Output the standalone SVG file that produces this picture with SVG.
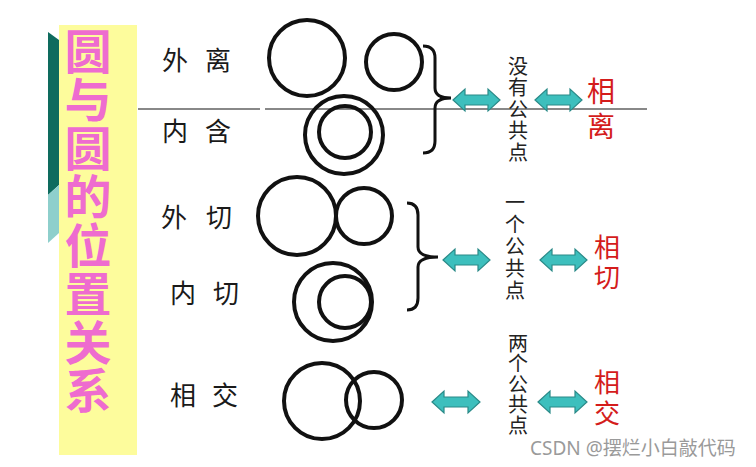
<svg xmlns="http://www.w3.org/2000/svg" width="756" height="467" viewBox="0 0 756 467">
<style>
.circ{fill:none;stroke:#111;stroke-width:4}
.title{font-family:"Noto Sans CJK SC","Noto Sans",sans-serif;font-size:47px;font-weight:bold;fill:#ee6ccf;writing-mode:vertical-rl;letter-spacing:1.5px}
.lbl{font-family:"Noto Sans CJK SC","Noto Sans",sans-serif;font-size:26px;fill:#1a1a1a;text-anchor:middle}
.vt{font-family:"Noto Sans CJK SC","Noto Sans",sans-serif;font-size:20px;fill:#222;writing-mode:vertical-rl}
.red{font-family:"Noto Sans CJK SC","Noto Sans",sans-serif;fill:#d41c1c;writing-mode:vertical-rl}
.arrow{fill:#3dbfbd;stroke:#2a8a88;stroke-width:1.2}
.brace{fill:none;stroke:#111;stroke-width:3}
.rule{stroke:#888;stroke-width:2}
</style>
<rect width="756" height="467" fill="#ffffff"/>
<g id="sidebar">
<polygon points="48,32 59,40 59,185 48,195" fill="#0e6b5e"/>
<polygon points="48,195 59,185 59,233 48,243" fill="#8ecfcc"/>
<rect x="59" y="25" width="78" height="430" fill="#fdfc9c"/>
<text class="title" x="88" y="27.5">圆与圆的位置关系</text>
</g>
<g id="rules">
<line class="rule" x1="138" y1="109" x2="260" y2="109"/>
<line class="rule" x1="265" y1="109" x2="647" y2="109"/>
</g>
<g id="labels">
<text class="lbl" x="175" y="70">外</text><text class="lbl" x="218" y="70">离</text>
<text class="lbl" x="175" y="141">内</text><text class="lbl" x="218" y="141">含</text>
<text class="lbl" x="174" y="227">外</text><text class="lbl" x="219" y="227">切</text>
<text class="lbl" x="183" y="303">内</text><text class="lbl" x="226" y="303">切</text>
<text class="lbl" x="183" y="405">相</text><text class="lbl" x="225" y="405">交</text>
</g>
<g id="separate">
<circle class="circ" cx="307" cy="58" r="38"/>
<circle class="circ" cx="394" cy="62" r="28"/>
</g>
<g id="contain">
<circle class="circ" cx="344" cy="135" r="39"/>
<circle class="circ" cx="345" cy="132" r="26"/>
</g>
<g id="ext-tangent">
<circle class="circ" cx="297" cy="216" r="39"/>
<circle class="circ" cx="364" cy="216" r="28"/>
</g>
<g id="int-tangent">
<circle class="circ" cx="333" cy="302" r="39"/>
<circle class="circ" cx="345" cy="302" r="26"/>
</g>
<g id="intersect">
<circle class="circ" cx="322" cy="401" r="38"/>
<circle class="circ" cx="374" cy="400" r="28"/>
</g>
<g id="connectors">
<path class="brace" d="M423,46 Q435,46 435,58 L435,88 Q435,98 451,98 Q435,98 435,108 L435,141 Q435,153 423,153"/>
<path class="brace" d="M407,203 Q418,203 418,215 L418,247 Q418,257 438,257 Q418,257 418,267 L418,298 Q418,310 407,310"/>
<path class="arrow" d="M453,100 L465,89 L465,95 L488,95 L488,89 L500,100 L488,111 L488,105 L465,105 L465,111 Z"/>
<path class="arrow" d="M535,100 L547,89 L547,95 L570,95 L570,89 L582,100 L570,111 L570,105 L547,105 L547,111 Z"/>
<path class="arrow" d="M443,260 L455,249 L455,255 L478,255 L478,249 L490,260 L478,271 L478,265 L455,265 L455,271 Z"/>
<path class="arrow" d="M540,260 L552,249 L552,255 L575,255 L575,249 L587,260 L575,271 L575,265 L552,265 L552,271 Z"/>
<path class="arrow" d="M432,402 L444,391 L444,397 L468,397 L468,391 L480,402 L468,413 L468,407 L444,407 L444,413 Z"/>
<path class="arrow" d="M538,402 L550,391 L550,397 L575,397 L575,391 L587,402 L575,413 L575,407 L550,407 L550,413 Z"/>
</g>
<g id="none-common">
<text class="vt" x="518" y="56" letter-spacing="1.5">没有公共点</text>
<text class="red" font-size="28" x="601" y="77" letter-spacing="7">相离</text>
</g>
<g id="one-common">
<text class="vt" x="515" y="192" letter-spacing="2">一个公共点</text>
<text class="red" font-size="26" x="607" y="234" letter-spacing="4">相切</text>
</g>
<g id="two-common">
<text class="vt" x="518" y="333" letter-spacing="0.5">两个公共点</text>
<text class="red" font-size="26" x="607" y="369.5" letter-spacing="5">相交</text>
</g>
<text x="530" y="455" font-family="'Noto Sans','Noto Sans CJK SC',sans-serif" font-size="19" fill="#9a9a9a">CSDN @摆烂小白敲代码</text>
</svg>
